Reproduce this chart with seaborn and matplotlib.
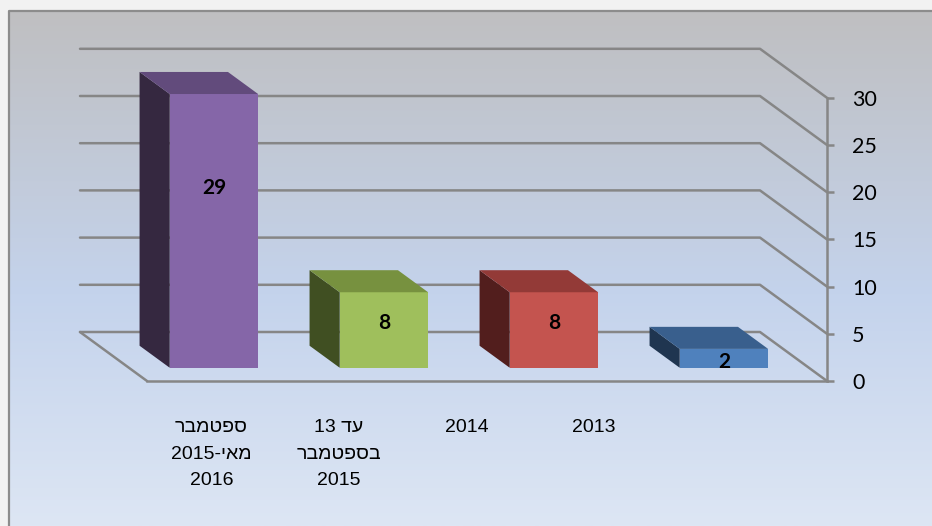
import re
import numpy as np
import matplotlib.pyplot as plt
from matplotlib.colors import LinearSegmentedColormap
from matplotlib.patches import Polygon
import seaborn as sns

# data (categories in the order they appear, left to right)
categories = ["ספטמבר\n2015-מאי\n2016", "13 עד\nבספטמבר\n2015", "2014", "2013"]
counts = [29, 8, 8, 2]
yticks = [0, 5, 10, 15, 20, 25, 30]

front_colors = ["#8566a8", "#9fbf5c", "#c4544f", "#4f81bd"]
top_colors = ["#624b7c", "#77913f", "#933a37", "#395f8d"]
side_colors = ["#352840", "#404f22", "#521e1d", "#1f3550"]
GRID = "#868686"

W, H = 932, 526
PX_X = 170.0            # pixels per category
PX_Y = 9.44             # pixels per value unit
X0_PX, Y0_PX = 147, 381  # front-left corner of the floor
DEPTH = (-67 / PX_X, 49 / PX_Y)  # front -> back wall offset
FRONT, BACK = 0.27, 0.72         # bar position in depth
BAR_W = 0.52


def visual(s):
    # matplotlib has no bidi: put hebrew runs in visual order
    return re.sub(r"[\u0590-\u05FF]+", lambda m: m.group()[::-1], s)


sns.set_theme(style="white")
plt.rcParams["font.family"] = ["Lato", "DejaVu Sans"]

fig = plt.figure(figsize=(W / 100, H / 100), dpi=100)
fig.patch.set_facecolor("#f2f2f2")

# background panel with gradient + frame
bg = fig.add_axes([0, 0, 1, 1], zorder=-1)
bg.set_xlim(0, W)
bg.set_ylim(H, 0)
bg.axis("off")
cmap = LinearSegmentedColormap.from_list(
    "bg", [(0, "#bfbfc1"), (0.55, "#c4d3ec"), (1, "#dde6f4")])
grad = np.linspace(0, 1, 256).reshape(-1, 1)
bg.imshow(grad, cmap=cmap, extent=(9, W, H, 11), aspect="auto")
bg.plot([8.5, 8.5, W], [H, 11, 11], color="#8c8c8c", lw=1.6)

# main axes, mapped so the front plane matches the picture
ax_l, ax_r, ax_t, ax_b = 30, 910, 20, 520
ax = fig.add_axes([ax_l / W, 1 - ax_b / H, (ax_r - ax_l) / W, (ax_b - ax_t) / H])
ax.patch.set_visible(False)

vis_cats = [visual(c) for c in categories]
n = len(counts)

sns.barplot(x=vis_cats, y=counts, hue=vis_cats, palette=front_colors,
            width=BAR_W, saturation=1, legend=False, errorbar=None,
            ax=ax, zorder=3)

# back wall + side wall gridlines
xl_back = -0.5 + DEPTH[0]
xr_back = n - 0.5 + DEPTH[0]
for v in yticks:
    ax.plot([xl_back, xr_back, n - 0.5], [v + DEPTH[1], v + DEPTH[1], v],
            color=GRID, lw=1.8, zorder=1)
ax.plot([xl_back, -0.5], [DEPTH[1], 0], color=GRID, lw=1.8, zorder=1)

# fake 3d: shift front faces, add side and top faces
bdx = DEPTH[0] * (BACK - FRONT)
bdy = DEPTH[1] * (BACK - FRONT)
for i, cont in enumerate(ax.containers):
    for bar in cont:
        bar.set_x(bar.get_x() + DEPTH[0] * FRONT)
        bar.set_y(bar.get_y() + DEPTH[1] * FRONT)
        bar.set_edgecolor("none")
        x0, y0 = bar.get_x(), bar.get_y()
        w, h = bar.get_width(), bar.get_height()
        side = [(x0, y0), (x0, y0 + h), (x0 + bdx, y0 + h + bdy), (x0 + bdx, y0 + bdy)]
        top = [(x0, y0 + h), (x0 + w, y0 + h), (x0 + w + bdx, y0 + h + bdy),
               (x0 + bdx, y0 + h + bdy)]
        ax.add_patch(Polygon(side, closed=True, fc=side_colors[i], ec="none", zorder=3))
        ax.add_patch(Polygon(top, closed=True, fc=top_colors[i], ec="none", zorder=3))
        ax.text(x0 + w / 2, y0 + 0.68 * h - 0.7, str(int(h)), ha="center",
                va="center", fontsize=15, fontweight="bold", color="black", zorder=5)

ax.set_xlim((ax_l - X0_PX) / PX_X - 0.5, (ax_r - X0_PX) / PX_X - 0.5)
ax.set_ylim((Y0_PX - ax_b) / PX_Y, (Y0_PX - ax_t) / PX_Y)

# axes lines
for s in ["left", "top"]:
    ax.spines[s].set_visible(False)
ax.spines["bottom"].set_position(("data", 0))
ax.spines["bottom"].set_bounds(-0.5, n - 0.5)
ax.spines["right"].set_position(("data", n - 0.5))
ax.spines["right"].set_bounds(0, 30)
for s in ["bottom", "right"]:
    ax.spines[s].set_color(GRID)
    ax.spines[s].set_linewidth(1.8)
    ax.spines[s].set_zorder(2)

ax.yaxis.tick_right()
ax.set_yticks(yticks)
ax.tick_params(axis="y", direction="out", length=5, width=1.8, color=GRID,
               pad=13, labelsize=15.5, labelcolor="black")
ax.set_xticks(np.arange(n + 1) - 0.5)
ax.set_xticklabels([])
ax.tick_params(axis="x", direction="out", length=8, width=1.8, color=GRID)
ax.set_xlabel("")
ax.set_ylabel("")

# category labels (excel places them on its own spacing)
LABEL_X0, LABEL_STEP, LABEL_Y = -0.12, 0.75, -4.05
for i, lab in enumerate(vis_cats):
    ax.text(LABEL_X0 + LABEL_STEP * i, LABEL_Y, lab, ha="center", va="top",
            fontsize=14, linespacing=1.72, color="black",
            family=["Liberation Sans", "DejaVu Sans"])

fig.savefig("out.png", dpi=100, facecolor=fig.get_facecolor())
